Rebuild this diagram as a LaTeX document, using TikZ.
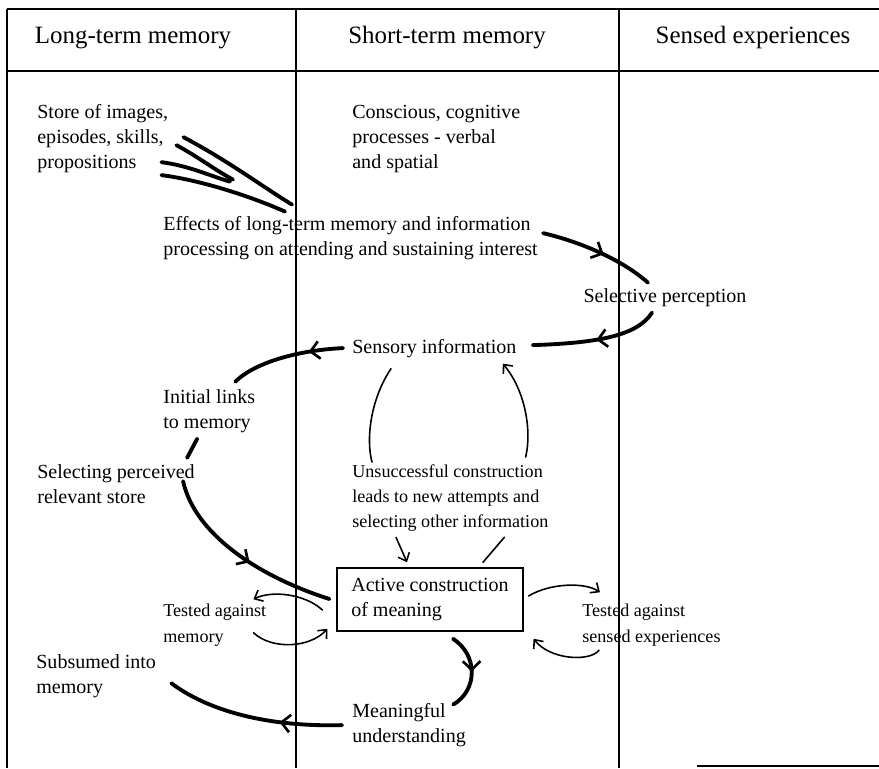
\documentclass[tikz,border=0pt]{standalone}
\usepackage{fontspec}
\setmainfont{Liberation Serif}
\usetikzlibrary{positioning,calc,arrows.meta,decorations.markings}
\tikzset{>={Straight Barb[length=4pt,width=7pt]},
  txt/.style={inner sep=0pt,anchor=base west,align=left,font=\fontsize{11.4}{14.2}\selectfont},
  smalltxt/.style={txt,font=\fontsize{10.3}{14.2}\selectfont},
  head/.style={inner sep=0pt,anchor=base,font=\fontsize{14.2}{17}\selectfont},
  rule/.style={line width=1.1pt},
  colrule/.style={line width=0.7pt},
  heavy/.style={line width=2.2pt,line cap=round},
  light/.style={line width=0.9pt,line cap=round},
  midarrow/.style={postaction={decorate},decoration={markings,
    mark=at position #1 with {\arrow[line width=1.5pt]{Straight Barb[length=5pt,width=10pt]}}}}
}
\begin{document}
\begin{tikzpicture}[x=0.02cm,y=-0.02cm]
\useasboundingbox (0,0) rectangle (879,768);
% table frame
\draw[rule] (7,9) -- (879,9);
\draw[rule] (7,71) -- (879,71);
\draw[colrule] (7,9) -- (7,768);
\draw[colrule] (296,9) -- (296,768);
\draw[colrule] (619,9) -- (619,768);
\draw[colrule] (697,766) -- (879,766);
% headings
\node[head] (ltm) at (133,43) {Long-term memory};
\node[head] (stm) at (447,43) {Short-term memory};
\node[head] (sens) at (753,43) {Sensed experiences};
% texts (anchored at the last line)
\node[txt] (store) at (37,168) {Store of images,\\episodes, skills,\\propositions};
\node[txt] (conscious) at (352,168) {Conscious, cognitive\\processes - verbal\\and spatial};
\node[txt] (effects) at (163,255) {Effects of long-term memory and information\\processing on attending and sustaining interest};
\node[txt,anchor=base] (selective) at (665,302) {Selective perception};
\node[txt] (sensory) at (352,353) {Sensory information};
\node[txt] (links) at (163,428) {Initial links\\to memory};
\node[txt] (selecting) at (37,503) {Selecting perceived\\relevant store};
\node[smalltxt] (unsucc) at (352,527) {Unsuccessful construction\\leads to new attempts and\\selecting other information};
\node[draw,line width=1pt,inner sep=0pt,minimum width=105.5pt,minimum height=35.7pt,align=left,
  font=\fontsize{11.4}{14.2}\selectfont] (acm) at (430,599.5) {Active construction\\of meaning};
\node[smalltxt,font=\fontsize{10.3}{14.7}\selectfont] (testmem) at (163,642) {Tested against\\memory};
\node[smalltxt,font=\fontsize{10.3}{14.7}\selectfont] (testsens) at (582,642) {Tested against\\sensed experiences};
\node[txt] (subsumed) at (36,693) {Subsumed into\\memory};
\node[txt] (meaning) at (352,742) {Meaningful\\understanding};
% strokes from the store
\draw[heavy] ([shift={(15,-1)}]store.east) .. controls (230,162) and (260,185) .. ([shift={(129,-11)}]effects.north west);
\draw[heavy] ([shift={(8,7)}]store.east) .. controls (200,158) and (215,170) .. ([shift={(70,-36)}]effects.north west);
\draw[heavy] ([shift={(-7,24)}]store.east) .. controls (190,166) and (210,176) .. ([shift={(67,-34)}]effects.north west);
\draw[heavy] ([shift={(-7,37)}]store.east) .. controls (200,180) and (250,196) .. ([shift={(122,-4)}]effects.north west);
% main cycle
\draw[heavy,midarrow=0.55] ([shift={(5,-4.5)}]effects.east) .. controls (585,243) and (625,262) .. ([shift={(-17,-5)}]selective.north);
\draw[heavy,midarrow=0.5] ([shift={(-13,6)}]selective.south) .. controls (638,335) and (600,343) .. ([shift={(16,-3)}]sensory.east);
\draw[heavy,midarrow=0.3] ([shift={(-9,0)}]sensory.west) .. controls (300,350) and (255,362) .. ([shift={(26,-7)}]links.north);
\draw[heavy] ([shift={(-12,6)}]links.south) -- ([shift={(-8,-6)}]selecting.north east);
\draw[heavy,midarrow=0.55] ([shift={(-12,-2.5)}]selecting.east) .. controls (195,535) and (260,577) .. ([shift={(-7,-0.5)}]acm.west);
% retries
\draw[light] ([shift={(39,11)}]sensory.south west) .. controls (370,400) and (366,440) .. ([shift={(20,-2)}]unsucc.north west);
\draw[light,->] ([shift={(-23,-7)}]unsucc.north east) .. controls (532,430) and (525,390) .. ([shift={(-14,6)}]sensory.south east);
\draw[light,->] ([shift={(44,6)}]unsucc.south west) -- ([shift={(-23,-5)}]acm.north);
\draw[light] ([shift={(53,-5)}]acm.north) -- ([shift={(54,6)}]unsucc.south);
% testing
\draw[light,->] ([shift={(5,-3.5)}]acm.east) .. controls (550,583) and (585,582) .. ([shift={(18,-11)}]testsens.north west);
\draw[light,->] ([shift={(17,4)}]testsens.south west) .. controls (590,662) and (550,660) .. ([shift={(10,7)}]acm.south east);
\draw[light,->] ([shift={(-14,10.5)}]acm.west) .. controls (305,594) and (272,590) .. ([shift={(-13,-4)}]testmem.north east);
\draw[light,->] ([shift={(-13,8)}]testmem.east) .. controls (272,650) and (310,648) .. ([shift={(-9,-3)}]acm.south west);
% outcome
\draw[heavy,midarrow=0.5] ([shift={(23,7)}]acm.south) .. controls (478,655) and (478,690) .. ([shift={(-13,2)}]meaning.north east);
\draw[heavy,midarrow=0.35] ([shift={(-10,0.5)}]meaning.west) .. controls (270,727) and (210,712) .. ([shift={(15,7.5)}]subsumed.east);
\end{tikzpicture}
\end{document}
